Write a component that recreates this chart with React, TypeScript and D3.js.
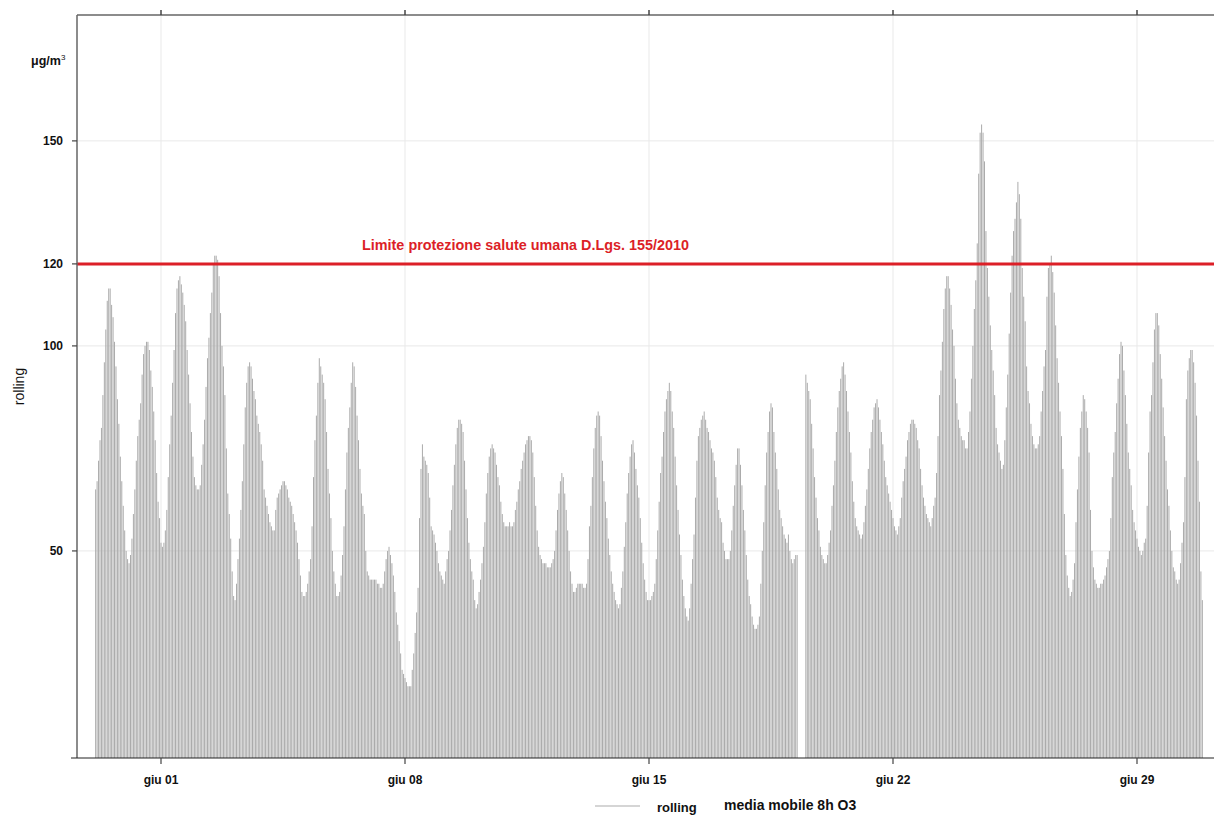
import React from "react";
import * as d3 from "d3";

// Rolling 8h mean O3 (µg/m³), hourly, starting 30 May 03:00
const seriesStart = new Date(2023, 4, 30, 3);

const week1: (number | null)[] = [
  // 30 May (03:00-23:00)
  65, 67, 72, 77, 80, 88, 96, 104, 111, 114, 114, 110, 107, 101, 95, 87, 81, 73, 67, 61, 55,
  // 31 May
  50, 48, 47, 49, 53, 59, 65, 72, 78, 82, 86, 93, 98, 100, 101, 101, 99, 94, 90, 84, 77, 69, 62, 58,
  // 1 Jun
  52, 51, 52, 55, 60, 68, 76, 83, 91, 99, 108, 114, 116, 117, 115, 113, 110, 106, 99, 93, 86, 79, 73, 68,
  // 2 Jun
  66, 65, 65, 66, 71, 76, 82, 90, 97, 102, 108, 113, 120, 122, 122, 121, 117, 108, 100, 95, 88, 75, 64, 59,
  // 3 Jun
  53, 45, 39, 38, 42, 48, 53, 60, 67, 76, 85, 91, 95, 96, 95, 92, 89, 87, 83, 81, 79, 76, 72, 65,
  // 4 Jun
  63, 61, 59, 57, 56, 55, 55, 60, 63, 64, 65, 66, 67, 67, 66, 65, 63, 62, 61, 59, 57, 55, 52, 48,
  // 5 Jun
  44, 40, 39, 39, 40, 42, 45, 48, 56, 68, 77, 83, 91, 97, 95, 93, 91, 87, 79, 70, 64, 58, 50, 45,
];

const week2: (number | null)[] = [
  // 6 Jun
  42, 39, 39, 40, 44, 49, 56, 65, 74, 80, 85, 91, 96, 95, 90, 83, 77, 70, 64, 61, 59, 50, 45, 44,
  // 7 Jun
  43, 43, 43, 43, 43, 42, 42, 41, 41, 42, 45, 48, 50, 51, 49, 47, 44, 40, 35, 32, 28, 25, 21, 20,
  // 8 Jun
  19, 18, 17, 17, 17, 21, 25, 30, 35, 41, 58, 70, 76, 73, 72, 71, 69, 63, 56, 55, 54, 52, 50, 47,
  // 9 Jun
  45, 44, 43, 42, 45, 48, 50, 55, 60, 66, 71, 76, 80, 82, 82, 81, 79, 72, 65, 58, 52, 48, 45, 43,
  // 10 Jun
  38, 36, 37, 40, 43, 47, 51, 57, 64, 69, 73, 75, 76, 75, 74, 71, 68, 66, 62, 59, 57, 56, 56, 56,
  // 11 Jun
  57, 56, 56, 57, 60, 62, 65, 67, 70, 72, 74, 76, 77, 78, 78, 77, 74, 68, 61, 55, 51, 49, 48, 47,
  // 12 Jun
  47, 47, 46, 46, 46, 47, 48, 50, 55, 60, 64, 67, 69, 68, 64, 60, 55, 50, 45, 42, 40, 40, 41, 42,
];

const week3: (number | null)[] = [
  // 13 Jun
  42, 42, 42, 41, 41, 42, 48, 56, 61, 68, 75, 80, 83, 84, 83, 78, 72, 67, 62, 58, 53, 49, 45, 42,
  // 14 Jun
  40, 38, 37, 36, 37, 41, 45, 51, 57, 64, 69, 73, 76, 77, 74, 70, 66, 63, 58, 52, 47, 43, 40, 38,
  // 15 Jun
  38, 38, 39, 40, 42, 48, 55, 62, 69, 73, 79, 84, 87, 89, 91, 89, 84, 80, 73, 66, 60, 54, 49, 43,
  // 16 Jun
  39, 36, 34, 33, 36, 42, 48, 54, 63, 72, 78, 80, 82, 83, 84, 82, 80, 79, 77, 75, 74, 72, 68, 63,
  // 17 Jun
  60, 58, 57, 52, 50, 48, 48, 48, 50, 55, 61, 66, 71, 75, 75, 71, 66, 60, 55, 49, 43, 39, 37, 34,
  // 18 Jun
  32, 31, 31, 32, 34, 42, 50, 57, 66, 74, 79, 84, 86, 85, 79, 74, 70, 65, 60, 58, 56, 54, 53, 52,
  // 19 Jun (missing 07:00-11:00)
  54, 50, 48, 47, 48, 49, 49, null, null, null, null, null, 93, 91, 89, 87, 81, 75, 68, 63, 58, 55, 51, 49,
];

const week4: (number | null)[] = [
  // 20 Jun
  48, 47, 47, 49, 52, 55, 61, 66, 72, 79, 85, 89, 92, 95, 96, 93, 89, 84, 79, 74, 67, 62, 58, 56,
  // 21 Jun
  55, 54, 53, 54, 57, 61, 65, 70, 75, 79, 82, 85, 86, 87, 85, 82, 79, 76, 72, 68, 66, 64, 62, 60,
  // 22 Jun
  58, 56, 55, 54, 56, 58, 63, 67, 70, 73, 77, 79, 81, 82, 82, 81, 80, 77, 75, 70, 66, 63, 61, 59,
  // 23 Jun
  58, 57, 56, 58, 61, 63, 69, 78, 88, 94, 101, 109, 114, 117, 117, 114, 110, 104, 100, 92, 86, 82, 80, 78,
  // 24 Jun
  77, 77, 75, 75, 79, 84, 92, 100, 109, 116, 125, 142, 152, 154, 152, 145, 128, 119, 112, 105, 99, 94, 88, 80,
  // 25 Jun
  76, 74, 72, 70, 71, 77, 85, 93, 103, 113, 122, 128, 131, 135, 140, 137, 131, 119, 112, 106, 95, 89, 86, 81,
  // 26 Jun
  78, 76, 75, 75, 76, 78, 84, 89, 95, 99, 112, 119, 120, 122, 118, 113, 105, 97, 91, 84, 78, 70, 59, 49,
];

const week5: (number | null)[] = [
  // 27 Jun
  44, 41, 39, 40, 43, 47, 57, 65, 73, 80, 84, 88, 87, 84, 80, 74, 60, 50, 46, 43, 42, 41, 41, 42,
  // 28 Jun
  42, 43, 44, 46, 48, 50, 58, 68, 74, 79, 86, 92, 98, 101, 100, 94, 88, 81, 74, 70, 66, 60, 57, 55,
  // 29 Jun
  53, 51, 50, 49, 50, 52, 53, 61, 74, 84, 88, 96, 104, 108, 108, 105, 98, 92, 85, 78, 72, 65, 61, 55,
  // 30 Jun (00:00-21:00)
  50, 46, 45, 43, 42, 43, 47, 52, 57, 68, 87, 94, 97, 99, 99, 96, 91, 83, 72, 62, 45, 38,
];

const yTicks = [50, 100, 120, 150];
const limitValue = 120;
const limitLabel = "Limite protezione salute umana D.Lgs. 155/2010";
const xTickLabels = ["giu 01", "giu 08", "giu 15", "giu 22", "giu 29"];
const firstTick = new Date(2023, 5, 1);
const unitLabel = "μg/m";
const yAxisTitle = "rolling";
const legendKey = "rolling";
const legendText = "media mobile 8h O3";

const W = 1214;
const H = 816;
const left = 77;
const right = 1214;
const top = 15;
const bottom = 758;
const font = "'Liberation Sans', Arial, Helvetica, sans-serif";

export default function App() {
  const values = [...week1, ...week2, ...week3, ...week4, ...week5];
  const data = values.map((v, i) => ({ t: d3.timeHour.offset(seriesStart, i), v }));

  const tickDates = xTickLabels.map((_, i) => d3.timeDay.offset(firstTick, 7 * i));
  const x = d3
    .scaleTime()
    .domain([tickDates[0], tickDates[tickDates.length - 1]])
    .range([161, 1137]);
  const y = d3.scaleLinear().domain([-0.5, 180.7]).range([bottom, top]);

  const grid = "#e9e9e9";
  const barColor = "#ababab";
  const red = "#dc1f27";

  return (
    <svg
      width={W}
      height={H}
      style={{ position: "absolute", left: 0, top: 0, background: "#fff" }}
      fontFamily={font}
    >
      <rect x={0} y={0} width={W} height={H} fill="#fff" />
      {/* gridlines */}
      {yTicks.map((t) => (
        <line key={"gy" + t} x1={left} x2={right} y1={y(t)} y2={y(t)} stroke={grid} strokeWidth={1} />
      ))}
      {tickDates.map((d, i) => (
        <line key={"gx" + i} x1={x(d)} x2={x(d)} y1={top} y2={bottom} stroke={grid} strokeWidth={1} />
      ))}
      {/* bars */}
      {data
        .filter((d) => d.v !== null)
        .map((d, i) => (
          <line
            key={"b" + i}
            x1={x(d.t)}
            x2={x(d.t)}
            y1={bottom}
            y2={y(d.v as number)}
            stroke={barColor}
            strokeWidth={1}
          />
        ))}
      {/* limit line */}
      <line x1={left} x2={right} y1={y(limitValue)} y2={y(limitValue)} stroke={red} strokeWidth={3} />
      <text x={362} y={y(limitValue) - 14} fill={red} fontSize={14.4} fontWeight="bold">
        {limitLabel}
      </text>
      {/* frame */}
      <line x1={left} x2={right} y1={top} y2={top} stroke="#666" strokeWidth={1.5} />
      <line x1={left} x2={left} y1={top} y2={bottom} stroke="#666" strokeWidth={1.5} />
      <line x1={71} x2={right} y1={bottom} y2={bottom} stroke="#222" strokeWidth={1.2} />
      {/* top ticks */}
      {tickDates.map((d, i) => (
        <line key={"tt" + i} x1={x(d)} x2={x(d)} y1={top - 5} y2={top} stroke="#444" strokeWidth={1.5} />
      ))}
      {/* bottom ticks + labels */}
      {tickDates.map((d, i) => (
        <g key={"bt" + i}>
          <line x1={x(d)} x2={x(d)} y1={bottom} y2={bottom + 6} stroke="#444" strokeWidth={1.2} />
          <text x={x(d)} y={bottom + 26} textAnchor="middle" fontSize={12} fontWeight="bold" fill="#111">
            {xTickLabels[i]}
          </text>
        </g>
      ))}
      {/* y ticks + labels */}
      {yTicks.map((t) => (
        <g key={"yt" + t}>
          <line x1={left - 5} x2={left} y1={y(t)} y2={y(t)} stroke="#444" strokeWidth={1.2} />
          <text x={63} y={y(t) + 4.5} textAnchor="end" fontSize={12} fontWeight="bold" fill="#111">
            {t}
          </text>
        </g>
      ))}
      {/* unit */}
      <text x={31} y={65} fontSize={12.5} fontWeight="bold" fill="#111">
        {unitLabel}
        <tspan dy={-5} fontSize={8} fontWeight="normal">3</tspan>
      </text>
      {/* y axis title */}
      <text
        transform={`translate(24, ${(top + bottom) / 2}) rotate(-90)`}
        textAnchor="middle"
        fontSize={14}
        fill="#111"
      >
        {yAxisTitle}
      </text>
      {/* legend */}
      <line x1={595} x2={640} y1={806} y2={806} stroke={barColor} strokeWidth={1} />
      <text x={657} y={812} fontSize={13} fontWeight="bold" fill="#111">
        {legendKey}
      </text>
      <text x={724} y={810} fontSize={14} fontWeight="bold" fill="#111">
        {legendText}
      </text>
    </svg>
  );
}
